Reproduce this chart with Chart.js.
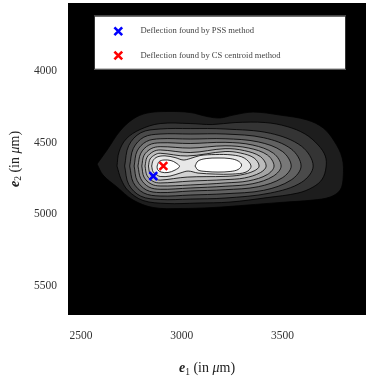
<!DOCTYPE html>
<html><head><meta charset="utf-8">
<style>html,body{margin:0;padding:0;background:#fff;}#wrap{width:366px;height:379px;}</style>
<script src="https://cdn.jsdelivr.net/npm/chart.js@4/dist/chart.umd.min.js"></script>
</head><body><div id="wrap"><canvas id="c" width="366" height="379"></canvas></div>
<script>
// ---- data ----
const xTicks = [2500, 3000, 3500];
const yTicks = [4000, 4500, 5000, 5500];
const xRange = [2436, 3914];
const yRange = [3528, 5702];
const seriesNames = ['Deflection found by PSS method', 'Deflection found by CS centroid method'];
const pssPoint = [2859, 4734];
const csPoint = [2909, 4664];
const levelCount = 11;
// contour polygons (x in µm, y in µm), outermost level 1 .. innermost level 11
const contour1 = [[2580,4650],[2630,4552],[2694,4420],[2759,4336],[2828,4295],[2927,4284],[3042,4291],[3126,4319],[3190,4329],[3255,4309],[3354,4288],[3488,4309],[3622,4343],[3702,4399],[3756,4490],[3796,4608],[3801,4741],[3786,4831],[3736,4880],[3652,4901],[3488,4918],[3324,4936],[3156,4953],[2992,4960],[2858,4953],[2759,4901],[2679,4810],[2610,4727]];
const contour2 = [[2679,4664],[2689,4566],[2724,4476],[2793,4410],[2893,4368],[3042,4368],[3151,4375],[3265,4361],[3414,4361],[3523,4389],[3612,4441],[3677,4518],[3712,4594],[3716,4671],[3697,4755],[3652,4810],[3577,4852],[3424,4884],[3240,4915],[3076,4922],[2927,4925],[2808,4904],[2734,4835],[2699,4755]];
const contour3 = [[2717,4664],[2737,4522],[2797,4432],[2893,4406],[3042,4403],[3215,4406],[3440,4436],[3595,4527],[3652,4664],[3595,4777],[3440,4852],[3215,4887],[3042,4894],[2893,4897],[2797,4874],[2737,4792]];
const contour4 = [[2742,4664],[2760,4541],[2812,4463],[2893,4441],[3042,4441],[3215,4441],[3407,4467],[3543,4545],[3592,4664],[3543,4761],[3407,4833],[3215,4857],[3042,4866],[2893,4873],[2812,4852],[2760,4779]];
const contour5 = [[2764,4664],[2779,4559],[2825,4493],[2893,4474],[3042,4476],[3215,4474],[3380,4496],[3499,4562],[3543,4664],[3499,4746],[3380,4808],[3215,4829],[3042,4838],[2893,4849],[2825,4831],[2779,4766]];
const contour6 = [[2783,4664],[2797,4575],[2837,4518],[2893,4502],[3042,4507],[3215,4499],[3353,4518],[3455,4575],[3493,4664],[3455,4734],[3353,4787],[3215,4805],[3042,4817],[2893,4826],[2837,4810],[2797,4753]];
const contour7 = [[2802,4664],[2813,4590],[2848,4543],[2893,4529],[3042,4539],[3215,4523],[3333,4539],[3425,4587],[3458,4664],[3425,4723],[3333,4767],[3215,4782],[3042,4796],[2893,4803],[2848,4789],[2813,4741]];
const contour8 = [[2818,4664],[2828,4603],[2858,4564],[2893,4552],[3042,4570],[3215,4543],[3312,4557],[3390,4598],[3419,4664],[3390,4710],[3312,4747],[3215,4759],[3042,4769],[2893,4782],[2858,4771],[2828,4730]];
const contour9 = [[2835,4664],[2843,4615],[2868,4585],[2893,4575],[3027,4594],[3215,4563],[3293,4574],[3359,4608],[3384,4664],[3359,4698],[3293,4726],[3215,4736],[3027,4741],[2893,4762],[2868,4752],[2843,4718]];
const contour10 = [[2851,4664],[2858,4626],[2878,4601],[2917,4593],[2967,4605],[3007,4622],[3042,4612],[3091,4591],[3166,4584],[3250,4587],[3310,4608],[3344,4664],[3319,4706],[3250,4720],[3166,4720],[3081,4713],[3032,4699],[2992,4713],[2942,4734],[2893,4737],[2878,4727],[2858,4704]];
const contour11a = [[2878,4664],[2888,4633],[2912,4622],[2947,4626],[2972,4643],[2989,4667],[2967,4692],[2932,4709],[2898,4706],[2880,4688]];
const contour11b = [[3066,4664],[3081,4629],[3121,4612],[3180,4608],[3240,4612],[3280,4629],[3297,4657],[3280,4688],[3240,4702],[3180,4706],[3121,4702],[3081,4692]];
const contourLevels = [1,2,3,4,5,6,7,8,9,10,11,11];
const contourShapes = [contour1,contour2,contour3,contour4,contour5,contour6,contour7,contour8,contour9,contour10,contour11a,contour11b];

// ---- styles ----
const FONT = "'Liberation Serif', 'DejaVu Serif', serif";
function grayFor(level){ const v = Math.round(255*(level + 0.3)/(levelCount + 0.3)); return 'rgb('+v+','+v+','+v+')'; }

const contourDatasets = contourShapes.map((pts, i) => ({
  label: '',
  data: pts.concat([pts[0]]).map(p => ({x: p[0], y: p[1]})),
  showLine: true,
  fill: 'shape',
  backgroundColor: grayFor(contourLevels[i]),
  borderColor: '#000',
  borderWidth: 0.8,
  pointRadius: 0,
  pointHoverRadius: 0,
  tension: 0.35,
  order: 100 - i
}));

const MARK = {radius: 5.5, width: 2.6};
const markerDatasets = [
  {label: seriesNames[0], data: [{x: pssPoint[0], y: pssPoint[1]}], pointStyle: 'crossRot', pointRadius: MARK.radius, pointBorderWidth: MARK.width, borderWidth: MARK.width, borderColor: '#0000ff', backgroundColor: '#0000ff', showLine: false, order: 1},
  {label: seriesNames[1], data: [{x: csPoint[0], y: csPoint[1]}], pointStyle: 'crossRot', pointRadius: MARK.radius, pointBorderWidth: MARK.width, borderWidth: MARK.width, borderColor: '#ff0000', backgroundColor: '#ff0000', showLine: false, order: 0}
];

const bgPlugin = {
  id: 'bg',
  beforeDraw(chart){
    const {ctx, chartArea: a} = chart;
    ctx.save(); ctx.fillStyle = '#000'; ctx.fillRect(a.left, a.top, a.right - a.left, a.bottom - a.top); ctx.restore();
  }
};

function drawRich(ctx, parts){
  let w = 0;
  parts.forEach(p => { ctx.font = p.f; p.w = ctx.measureText(p.t).width; w += p.w; });
  let x = -w/2;
  parts.forEach(p => { ctx.font = p.f; ctx.fillText(p.t, x, p.dy || 0); x += p.w; });
}
function titleParts(sub){
  return [
    {t:'e', f:'bold italic 14px ' + FONT},
    {t:sub, f:'9.5px ' + FONT, dy: 3.5},
    {t:' (in ', f:'14px ' + FONT},
    {t:'\u03bc', f:'italic 14px ' + FONT},
    {t:'m)', f:'14px ' + FONT}
  ];
}

const decoPlugin = {
  id: 'deco',
  afterDraw(chart){
    const {ctx, chartArea: a} = chart;
    ctx.save();
    ctx.fillStyle = '#222';
    ctx.textBaseline = 'middle';
    ctx.save(); ctx.translate((a.left + a.right)/2 - 10, 368.5); drawRich(ctx, titleParts('1')); ctx.restore();
    ctx.save(); ctx.translate(15, (a.top + a.bottom)/2); ctx.rotate(-Math.PI/2); drawRich(ctx, titleParts('2')); ctx.restore();
    // legend box
    const lx = a.left + 26, ly = a.top + 12.7, lw = 252, lh = 54;
    ctx.fillStyle = '#fff'; ctx.fillRect(lx, ly, lw, lh);
    ctx.strokeStyle = '#333'; ctx.lineWidth = 1; ctx.strokeRect(lx + 0.5, ly + 0.5, lw - 1, lh - 1);
    markerDatasets.forEach((ds, i) => {
      const cy = ly + 15.5 + i*24.3;
      ctx.strokeStyle = ds.borderColor; ctx.fillStyle = ds.borderColor; ctx.lineWidth = MARK.width;
      Chart.helpers.drawPoint(ctx, {pointStyle: 'crossRot', radius: MARK.radius, borderWidth: MARK.width, rotation: 0}, lx + 24.3, cy);
      ctx.fillStyle = '#444';
      ctx.font = '8.6px ' + FONT;
      ctx.textAlign = 'left';
      ctx.fillText(ds.label, lx + 46.5, cy);
    });
    ctx.restore();
  }
};

function zeroPad(s){ s.paddingTop = 0; s.paddingBottom = 0; s.paddingLeft = 0; s.paddingRight = 0; }

new Chart(document.getElementById('c'), {
  type: 'scatter',
  data: {datasets: markerDatasets.concat(contourDatasets)},
  options: {
    responsive: false,
    devicePixelRatio: 1,
    animation: false,
    events: [],
    layout: {autoPadding: false, padding: {top: 3, right: 0, left: 0, bottom: 0}},
    plugins: {legend: {display: false}, tooltip: {enabled: false}},
    scales: {
      x: {
        type: 'linear', min: xRange[0], max: xRange[1],
        grid: {display: false, drawTicks: false}, border: {display: false},
        ticks: {padding: 14, color: '#333', font: {family: FONT, size: 11.5}, callback: v => String(v)},
        afterBuildTicks: s => { s.ticks = xTicks.map(v => ({value: v})); },
        afterFit: s => { s.height = 64; zeroPad(s); }
      },
      y: {
        type: 'linear', reverse: true, min: yRange[0], max: yRange[1],
        grid: {display: false, drawTicks: false}, border: {display: false},
        ticks: {padding: 11, color: '#333', font: {family: FONT, size: 11.5}, callback: v => String(v)},
        afterBuildTicks: s => { s.ticks = yTicks.map(v => ({value: v})); },
        afterFit: s => { s.width = 68; zeroPad(s); }
      }
    }
  },
  plugins: [bgPlugin, decoPlugin]
});
</script></body></html>
